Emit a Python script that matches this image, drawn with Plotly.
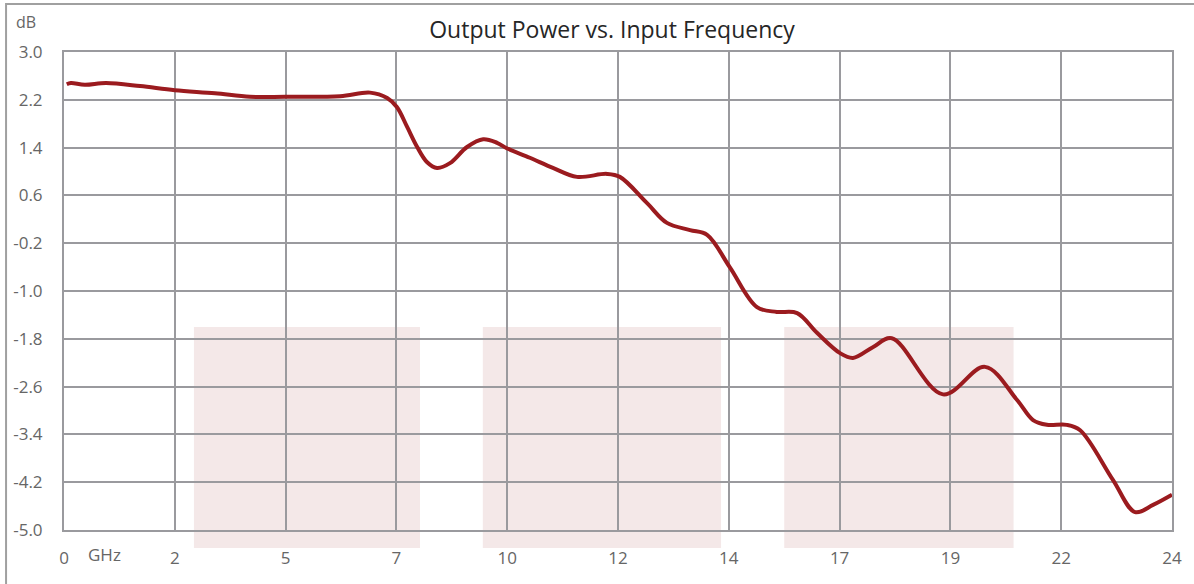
import plotly.graph_objects as go

# Data
freq_ghz = [0.06, 0.15, 0.45, 0.91, 1.65, 2.40, 3.27, 4.03, 4.79, 5.98, 6.63, 7.00,
            7.21, 7.43, 7.65, 7.86, 8.08, 8.36, 8.73, 9.08, 9.38, 9.59, 10.09,
            10.59, 11.11, 11.76, 12.04, 12.63, 13.06, 13.56, 13.93, 14.42, 15.01,
            15.44, 15.88, 16.31, 16.81, 17.09, 17.52, 17.93, 19.04, 19.95, 20.64,
            20.99, 21.29, 21.72, 22.01, 22.72, 23.20, 23.59, 24.0]
power_db = [2.46, 2.48, 2.45, 2.48, 2.43, 2.36, 2.31, 2.25, 2.25, 2.26, 2.32, 2.23,
            2.08, 1.75, 1.41, 1.16, 1.06, 1.14, 1.41, 1.54, 1.48, 1.39, 1.23,
            1.06, 0.91, 0.96, 0.91, 0.47, 0.14, 0.02, -0.06, -0.60, -1.27,
            -1.35, -1.37, -1.70, -2.04, -2.12, -1.94, -1.79, -2.73, -2.27, -2.82,
            -3.16, -3.24, -3.24, -3.33, -4.16, -4.70, -4.58, -4.41]

x_tick_vals = [0, 2.4, 4.8, 7.2, 9.6, 12.0, 14.4, 16.8, 19.2, 21.6, 24.0]
x_tick_text = ["0", "2", "5", "7", "10", "12", "14", "17", "19", "22", "24"]
y_tick_vals = [3.0, 2.2, 1.4, 0.6, -0.2, -1.0, -1.8, -2.6, -3.4, -4.2, -5.0]
y_tick_text = ["3.0", "2.2", "1.4", "0.6", "-0.2", "-1.0", "-1.8", "-2.6", "-3.4", "-4.2", "-5.0"]

# Decorative shaded bands (paper coordinates)
bands_x = [(0.1173, 0.3213), (0.378, 0.593), (0.650, 0.857)]
band_y = (-0.0377, 0.4247)

FONT = "Open Sans"
GRID = "#9a9a9e"
TICK_COL = "#666666"

fig = go.Figure()
fig.add_trace(go.Scatter(
    x=freq_ghz, y=power_db, mode="lines",
    line=dict(color="#9b1b1f", width=4, shape="spline", smoothing=1.0),
    hoverinfo="x+y", showlegend=False,
))

shapes = []
for x0, x1 in bands_x:
    shapes.append(dict(type="rect", xref="paper", yref="paper",
                       x0=x0, x1=x1, y0=band_y[0], y1=band_y[1],
                       fillcolor="rgba(205,150,150,0.22)", line=dict(width=0),
                       layer="between"))
# outer chart border
shapes.append(dict(type="rect", xref="paper", yref="paper",
                   x0=-0.0523, x1=1.2, y0=-0.3, y1=1.1004,
                   line=dict(color="#a0a0a0", width=2), fillcolor="rgba(0,0,0,0)",
                   layer="below"))

fig.update_layout(
    width=1194, height=584,
    margin=dict(l=64, r=22, t=52, b=54),
    paper_bgcolor="white", plot_bgcolor="white",
    font=dict(family=FONT, color=TICK_COL, size=17),
    title=dict(text="Output Power vs. Input Frequency", x=0.4946, xref="paper",
               xanchor="center", y=0.9486, yref="container", yanchor="middle",
               font=dict(family=FONT, size=23, color="#262626")),
    shapes=shapes,
    annotations=[
        dict(text="dB", xref="paper", yref="paper", x=-0.0342, y=1.063,
             xanchor="center", yanchor="middle", showarrow=False,
             font=dict(family=FONT, size=16, color=TICK_COL)),
        dict(text="GHz", xref="paper", yref="paper", x=0.0370, y=-0.052,
             xanchor="center", yanchor="middle", showarrow=False,
             font=dict(family=FONT, size=17, color=TICK_COL)),
    ],
    xaxis=dict(range=[0, 24], tickvals=x_tick_vals, ticktext=x_tick_text,
               showgrid=True, gridcolor=GRID, gridwidth=2, zeroline=False,
               showline=True, linecolor=GRID, linewidth=2, mirror=True,
               ticks="", ticklabelstandoff=12,
               tickfont=dict(family=FONT, size=17, color=TICK_COL)),
    yaxis=dict(range=[-5.0, 3.0], tickvals=y_tick_vals, ticktext=y_tick_text,
               showgrid=True, gridcolor=GRID, gridwidth=2, zeroline=False,
               showline=True, linecolor=GRID, linewidth=2, mirror=True,
               ticks="", ticklabelstandoff=16,
               tickfont=dict(family=FONT, size=17, color=TICK_COL)),
)

fig.write_html("out.html",
               config={"displayModeBar": False},
               post_script="document.body.style.margin='0';document.body.style.padding='0';")
